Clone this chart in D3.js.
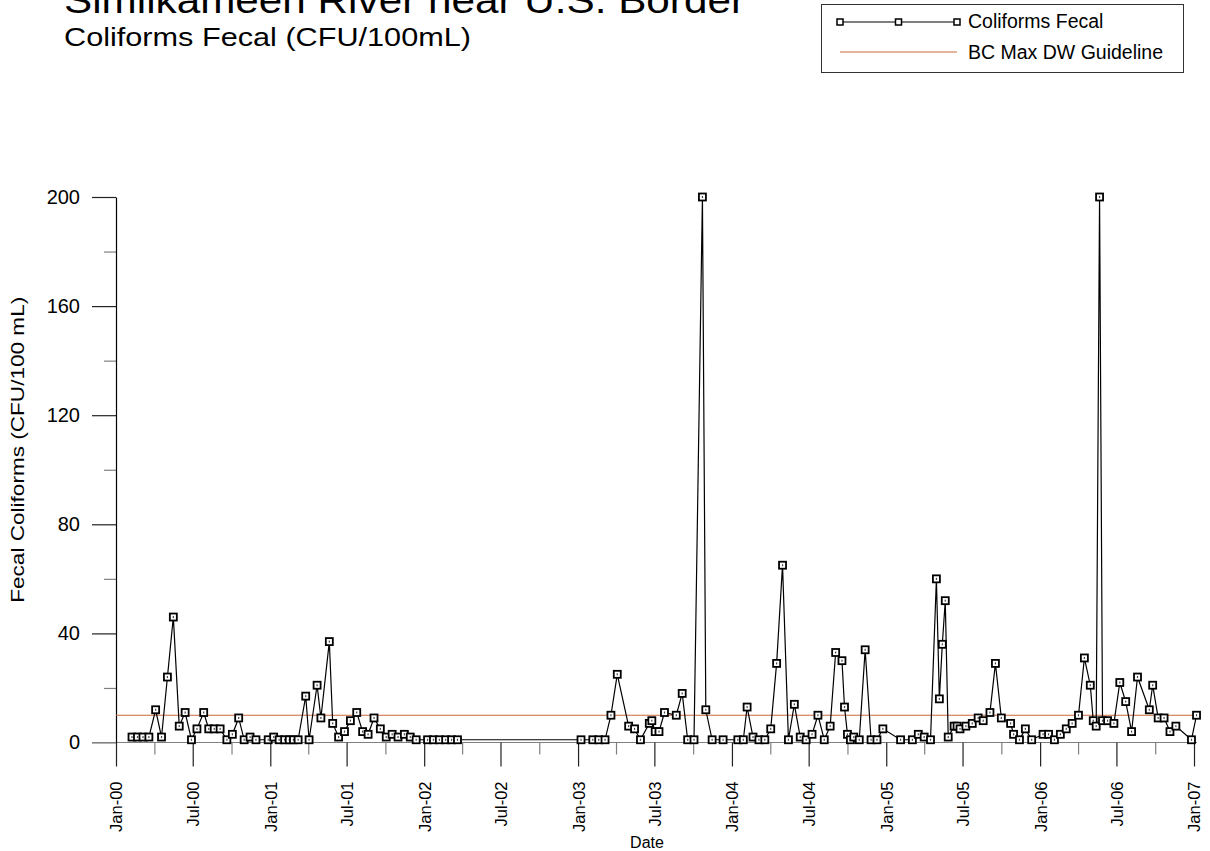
<!DOCTYPE html>
<html>
<head>
<meta charset="utf-8">
<script src="https://cdn.jsdelivr.net/npm/d3@7"></script>
<style>
  html, body { margin: 0; padding: 0; background: #fff; }
  svg { display: block; font-family: Arial, "Liberation Sans", Helvetica, sans-serif; }
</style>
</head>
<body>
<svg id="chart" width="1210" height="851"></svg>
<script>
// ---------------- DATA ----------------
const titleText = "Similkameen River near U.S. Border";
const subtitleText = "Coliforms Fecal (CFU/100mL)";
const seriesName = "Coliforms Fecal";
const guidelineName = "BC Max DW Guideline";
const yAxisTitle = "Fecal Coliforms (CFU/100 mL)";
const xAxisTitle = "Date";

const sampleDates = [
  "2000-02-08","2000-02-21","2000-03-05","2000-03-19","2000-04-04","2000-04-18","2000-05-02","2000-05-16",
  "2000-05-30","2000-06-13","2000-06-28","2000-07-11","2000-07-27","2000-08-08","2000-08-21","2000-09-04",
  "2000-09-20","2000-10-03","2000-10-18","2000-10-31","2000-11-14","2000-11-28","2000-12-27",
  "2001-01-09","2001-01-22","2001-02-04","2001-02-15","2001-02-25","2001-03-08","2001-03-26","2001-04-03",
  "2001-04-22","2001-05-01","2001-05-21","2001-05-29","2001-06-12","2001-06-26","2001-07-10","2001-07-25",
  "2001-08-08","2001-08-21","2001-09-04","2001-09-19","2001-10-03","2001-10-17","2001-10-31","2001-11-15",
  "2001-11-29","2001-12-13",
  "2002-01-09","2002-01-23","2002-02-06","2002-02-21","2002-03-07","2002-03-21",
  "2003-01-08","2003-02-05","2003-02-19","2003-03-06","2003-03-20","2003-04-04","2003-05-01","2003-05-15",
  "2003-05-29","2003-06-19","2003-06-25","2003-07-03","2003-07-12","2003-07-25","2003-08-22","2003-09-05",
  "2003-09-18","2003-10-03","2003-10-23","2003-10-31","2003-11-15","2003-12-11",
  "2004-01-15","2004-01-28","2004-02-06","2004-02-20","2004-03-05","2004-03-19","2004-04-02","2004-04-16",
  "2004-04-30","2004-05-14","2004-05-28","2004-06-11","2004-06-25","2004-07-09","2004-07-23","2004-08-07",
  "2004-08-21","2004-09-03","2004-09-18","2004-09-24","2004-10-01","2004-10-08","2004-10-16","2004-10-29",
  "2004-11-12","2004-11-26","2004-12-10","2004-12-24",
  "2005-02-04","2005-03-04","2005-03-18","2005-04-01","2005-04-16","2005-04-30","2005-05-07","2005-05-14",
  "2005-05-21","2005-05-28","2005-06-11","2005-06-18","2005-06-25","2005-07-09","2005-07-24","2005-08-07",
  "2005-08-19","2005-09-04","2005-09-17","2005-10-01","2005-10-23","2005-10-30","2005-11-13","2005-11-27",
  "2005-12-12",
  "2006-01-08","2006-01-21","2006-02-04","2006-02-18","2006-03-04","2006-03-18","2006-04-02","2006-04-16",
  "2006-04-30","2006-05-07","2006-05-14","2006-05-22","2006-05-29","2006-06-10","2006-06-25","2006-07-09",
  "2006-07-23","2006-08-06","2006-08-20","2006-09-17","2006-09-25","2006-10-08","2006-10-22","2006-11-05",
  "2006-11-19","2006-12-26","2007-01-07"
];

const fecalValues = [
  2,2,2,2,12,2,24,46,
  6,11,1,5,11,5,5,5,
  1,3,9,1,2,1,1,
  2,1,1,1,1,1,17,1,
  21,9,37,7,2,4,8,11,
  4,3,9,5,2,3,2,3,
  2,1,
  1,1,1,1,1,1,
  1,1,1,1,10,25,6,5,
  1,7,8,4,4,11,10,18,
  1,1,200,12,1,1,
  1,1,13,2,1,1,5,29,
  65,1,14,2,1,3,10,1,
  6,33,30,13,3,1,2,1,
  34,1,1,5,
  1,1,3,2,1,60,16,36,
  52,2,6,6,5,6,7,9,
  8,11,29,9,7,3,1,5,
  1,
  3,3,1,3,5,7,10,31,
  21,8,6,200,8,8,7,22,
  15,4,24,12,21,9,9,4,
  6,1,10
];

const guidelineValue = 10;
const xDomain = ["2000-01-01", "2007-01-01"];
const yDomain = [0, 200];
const yMajorTicks = [0, 40, 80, 120, 160, 200];
const yMinorTicks = [20, 60, 100, 140, 180];

// ---------------- CHART ----------------
const parse = d3.utcParse("%Y-%m-%d");
const data = sampleDates.map((d, i) => ({ date: parse(d), value: fecalValues[i] }));

const svg = d3.select("#chart");
const plot = { left: 116, right: 1194, top: 197, bottom: 742.5 };
const guideColor = "#c9683f";

const x = d3.scaleUtc().domain(xDomain.map(parse)).range([plot.left, plot.right]);
const y = d3.scaleLinear().domain(yDomain).range([plot.bottom, plot.top]);

// Titles
svg.append("text").attr("x", 64).attr("y", 13)
  .attr("font-size", 37).attr("textLength", 681).attr("lengthAdjust", "spacingAndGlyphs")
  .attr("fill", "#000").text(titleText);
svg.append("text").attr("x", 64).attr("y", 46)
  .attr("font-size", 26).attr("textLength", 407).attr("lengthAdjust", "spacingAndGlyphs")
  .attr("fill", "#000").text(subtitleText);

// X axis line (gray), extended left to meet y=0 tick
svg.append("line")
  .attr("x1", plot.left - 24).attr("x2", x(parse("2007-01-08")))
  .attr("y1", y(0)).attr("y2", y(0))
  .attr("stroke", "#808080").attr("stroke-width", 1.2);

// X minor ticks (quarterly, gray)
const quarterTicks = d3.utcMonth.range(parse("2000-01-01"), parse("2007-01-02"), 3)
  .filter(d => d.getUTCMonth() % 6 !== 0);
svg.append("g")
  .attr("transform", `translate(0,${y(0)})`)
  .call(d3.axisBottom(x).tickValues(quarterTicks).tickSize(12).tickFormat(""))
  .call(g => g.select(".domain").remove())
  .call(g => g.selectAll(".tick line").attr("stroke", "#808080").attr("stroke-width", 1.2));

// X major ticks (half-yearly) with rotated labels
const halfTicks = d3.utcMonth.range(parse("2000-01-01"), parse("2007-01-02"), 6);
const fmt = d3.utcFormat("%b-%y");
const xAxis = svg.append("g")
  .attr("transform", `translate(0,${y(0)})`)
  .call(d3.axisBottom(x).tickValues(halfTicks).tickSize(24).tickFormat(fmt))
  .call(g => g.select(".domain").remove());
xAxis.selectAll(".tick line").attr("stroke", "#222").attr("stroke-width", 1.2);
xAxis.selectAll(".tick text")
  .attr("font-size", 16.5)
  .attr("font-family", "Arial, 'Liberation Sans', sans-serif")
  .attr("fill", "#000")
  .attr("text-anchor", "end")
  .attr("transform", "translate(0,39) rotate(-90)")
  .attr("x", 0).attr("y", 0).attr("dy", "0.36em");

// Y minor ticks
svg.append("g")
  .attr("transform", `translate(${plot.left},0)`)
  .call(d3.axisLeft(y).tickValues(yMinorTicks).tickSize(12).tickFormat(""))
  .call(g => g.select(".domain").remove())
  .call(g => g.selectAll(".tick line").attr("stroke", "#808080").attr("stroke-width", 1.2));

// Y major ticks + axis
const yAxis = svg.append("g")
  .attr("transform", `translate(${plot.left},0)`)
  .call(d3.axisLeft(y).tickValues(yMajorTicks).tickSize(24).tickSizeOuter(0).tickPadding(12).tickFormat(d3.format("d")));
yAxis.select(".domain").attr("stroke", "#000").attr("stroke-width", 1.2);
yAxis.selectAll(".tick line").attr("stroke", d => d === 0 ? "#808080" : "#222").attr("stroke-width", 1.2);
yAxis.selectAll(".tick text")
  .attr("font-size", 20)
  .attr("font-family", "Arial, 'Liberation Sans', sans-serif")
  .attr("fill", "#000");

// Axis titles
svg.append("text")
  .attr("transform", `translate(24,${(plot.top + plot.bottom) / 2 - 20}) rotate(-90)`)
  .attr("text-anchor", "middle").attr("font-size", 17.5)
  .attr("textLength", 306).attr("lengthAdjust", "spacingAndGlyphs")
  .text(yAxisTitle);
svg.append("text")
  .attr("x", (plot.left + plot.right) / 2 - 8).attr("y", 848)
  .attr("text-anchor", "middle").attr("font-size", 16)
  .text(xAxisTitle);

// Guideline
svg.append("line")
  .attr("x1", plot.left).attr("x2", x(parse("2007-01-08")))
  .attr("y1", y(guidelineValue)).attr("y2", y(guidelineValue))
  .attr("stroke", guideColor).attr("stroke-width", 1.2);

// Series line
const line = d3.line().x(d => x(d.date)).y(d => y(d.value));
svg.append("path").datum(data)
  .attr("d", line).attr("fill", "none")
  .attr("stroke", "#000").attr("stroke-width", 1.2);

// Markers
const ms = 7;
const mk = svg.append("g").selectAll("g").data(data).join("g")
  .attr("transform", d => `translate(${x(d.date)},${y(d.value)})`);
mk.append("rect")
  .attr("x", -ms / 2).attr("y", -ms / 2).attr("width", ms).attr("height", ms)
  .attr("fill", "#fff").attr("stroke", "#000").attr("stroke-width", 1.8);
mk.append("rect")
  .attr("x", -0.6).attr("y", -1).attr("width", 1.2).attr("height", 2)
  .attr("fill", "#444");

// Legend
const lg = svg.append("g");
lg.append("rect").attr("x", 821.5).attr("y", 4.5).attr("width", 362).attr("height", 68)
  .attr("fill", "#fff").attr("stroke", "#333").attr("stroke-width", 1);
const lx1 = 840, lx2 = 957;
lg.append("line").attr("x1", lx1).attr("x2", lx2).attr("y1", 22).attr("y2", 22)
  .attr("stroke", "#000").attr("stroke-width", 1.2);
lg.selectAll("rect.m").data([lx1, (lx1 + lx2) / 2, lx2]).join("rect").attr("class", "m")
  .attr("x", d => d - 3).attr("y", 19).attr("width", 6).attr("height", 6)
  .attr("fill", "#fff").attr("stroke", "#000").attr("stroke-width", 1.5);
lg.append("text").attr("x", 968).attr("y", 28).attr("font-size", 19.5).text(seriesName);
lg.append("line").attr("x1", lx1).attr("x2", lx2).attr("y1", 52).attr("y2", 52)
  .attr("stroke", guideColor).attr("stroke-width", 1.2);
lg.append("text").attr("x", 968).attr("y", 59).attr("font-size", 19.5).text(guidelineName);
</script>
</body>
</html>
